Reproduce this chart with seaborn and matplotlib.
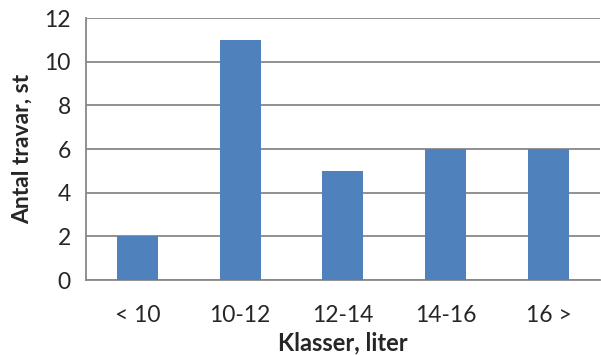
import matplotlib
matplotlib.use("Agg")
import matplotlib.pyplot as plt
import seaborn as sns
import pandas as pd
import numpy as np

categories = ["< 10", "10-12", "12-14", "14-16", "16 >"]
values = [2, 11, 5, 6, 6]
yticks = [0, 2, 4, 6, 8, 10, 12]

sns.set_style("white")
plt.rcParams['font.family'] = ['Lato', 'DejaVu Sans']

df = pd.DataFrame({"Klasser": categories, "Antal": values})

fig = plt.figure(figsize=(6.01, 3.55), dpi=100)
ax = fig.add_axes([0.143, 0.211, 0.855, 0.738])
sns.barplot(data=df, x="Klasser", y="Antal", color="#4F81BD", saturation=1,
            width=0.4, linewidth=0, ax=ax, zorder=3)

grid_c = "#888888"
ax.set_ylim(0, 12)
ax.set_xlim(-0.5, len(categories) - 0.5)
ax.set_yticks(yticks)
ax.yaxis.grid(True, color=grid_c, linewidth=1.3, zorder=0)
ax.set_axisbelow(True)
for s in ["top", "right"]:
    ax.spines[s].set_visible(False)
for s in ["left", "bottom"]:
    ax.spines[s].set_color(grid_c)
    ax.spines[s].set_linewidth(1.3)

ax.tick_params(axis="y", direction="out", length=7, width=1.3, color=grid_c,
               labelsize=16.5, pad=4)
ax.tick_params(axis="x", which="major", length=0, labelsize=16.5, pad=18)
ax.set_xticks(np.arange(-0.5, len(categories), 1.0), minor=True)
ax.tick_params(axis="x", which="minor", direction="out", length=7, width=1.3, color=grid_c)

ax.set_xlabel("Klasser, liter", fontsize=17, fontweight="bold", labelpad=4)
ax.set_ylabel("Antal travar, st", fontsize=16.5, fontweight="bold", labelpad=8)

fig.savefig("out.png", dpi=100)
